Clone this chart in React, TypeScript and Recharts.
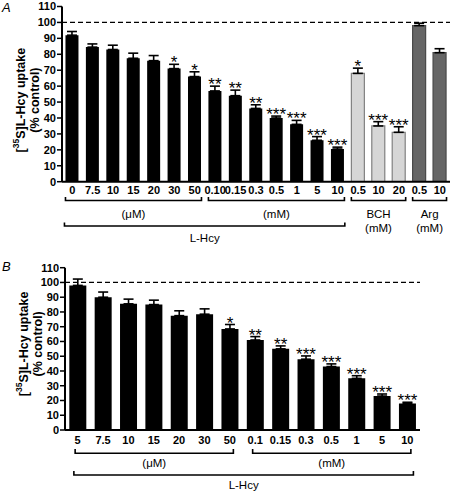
import React from 'react';
import { BarChart, Bar, XAxis, YAxis, ErrorBar, ReferenceLine, ReferenceArea, Cell, LabelList, Label } from 'recharts';

const FONT = '"Liberation Sans", Arial, Helvetica, sans-serif';

// ---------- Panel A data ----------
const aLabels = ['0', '7.5', '10', '15', '20', '30', '50', '0.10', '0.15', '0.3', '0.5', '1', '5', '10', '0.5', '10', '20', '0.5', '10'];
const aValues = [92, 84.5, 83, 77.5, 76, 71, 66, 57, 54, 46, 40, 36, 26, 20.5, 68, 35, 31, 98, 81];
const aErrors = [2.3, 2, 2.7, 3.2, 3.2, 2.7, 3, 3, 3.5, 2.3, 1.2, 2.5, 2.3, 1.2, 3.3, 2.7, 3.5, 1.5, 2.5];
const aStars = ['', '', '', '', '', '*', '*', '**', '**', '**', '***', '***', '***', '***', '*', '***', '***', '', ''];
const aKinds = ['h', 'h', 'h', 'h', 'h', 'h', 'h', 'h', 'h', 'h', 'h', 'h', 'h', 'h', 'b', 'b', 'b', 'r', 'r'];
const aGroups = [
  { from: 0, to: 6, row: 1, text: ['(\u03bcM)'] },
  { from: 7, to: 13, row: 1, text: ['(mM)'] },
  { from: 14, to: 16, row: 1, text: ['BCH', '(mM)'] },
  { from: 17, to: 18, row: 1, text: ['Arg', '(mM)'] },
  { from: 0, to: 13, row: 2, text: ['L-Hcy'] },
];

// ---------- Panel B data ----------
const bLabels = ['5', '7.5', '10', '15', '20', '30', '50', '0.1', '0.15', '0.3', '0.5', '1', '5', '10'];
const bValues = [98, 90, 85.5, 85, 77.5, 78.5, 68.5, 61, 55, 48, 43, 35, 23, 18];
const bErrors = [4.3, 3.5, 3.2, 3, 3.3, 3.6, 3, 2.3, 2, 2.2, 1.8, 1.8, 1.4, 0.8];
const bStars = ['', '', '', '', '', '', '*', '**', '**', '***', '***', '***', '***', '***'];
const bKinds = ['h', 'h', 'h', 'h', 'h', 'h', 'h', 'h', 'h', 'h', 'h', 'h', 'h', 'h'];
const bGroups = [
  { from: 0, to: 6, row: 1, text: ['(\u03bcM)'] },
  { from: 7, to: 13, row: 1, text: ['(mM)'] },
  { from: 0, to: 13, row: 2, text: ['L-Hcy'] },
];

const yTicks = [0, 10, 20, 30, 40, 50, 60, 70, 80, 90, 100, 110];
const controlLevel = 100;

const KIND_FILL: Record<string, string> = { h: '#000000', b: '#d6d6d6', r: '#666666' };
const KIND_STROKE: Record<string, string> = { h: '#000000', b: '#808080', r: '#4a4a4a' };

type Group = { from: number; to: number; row: number; text: string[] };
type RowStyle = { y1: number; y2: number; insetL: number; insetR: number; labelGap: number };

function buildData(labels: string[], values: number[], errors: number[]) {
  return labels.map((l, i) => ({ id: 'c' + i, label: l, v: values[i], err: [0, errors[i]] }));
}

const makeStarContent = (stars: string[], errors: number[]) => (props: any) => {
  const { x, y, width, height, value, index } = props;
  const s = stars[index];
  if (!s) return null;
  const px = Number(height) / Number(value);
  const top = Number(y) - errors[index] * px;
  return (
    <text x={Number(x) + Number(width) / 2} y={top + 4} textAnchor="middle" fontSize={17} fontFamily={FONT} fill="#000">
      {s}
    </text>
  );
};

const makeBracket = (g: Group, rs: RowStyle) => (props: any) => {
  const { x, y, width, height } = props;
  const n = g.to - g.from + 1;
  const band = Number(width) / n;
  const l = Number(x) + band * rs.insetL;
  const r = Number(x) + Number(width) - band * rs.insetR;
  const yb = Number(y) + Number(height);
  const cx = (l + r) / 2;
  return (
    <g>
      <path d={`M${l},${Number(y)} V${yb} H${r} V${Number(y)}`} fill="none" stroke="#000" strokeWidth={1.6} />
      {g.text.map((t, k) => (
        <text key={k} x={cx} y={yb + rs.labelGap + k * 13.3} textAnchor="middle" dominantBaseline="central" fontSize={11.5} fontFamily={FONT} fill="#000">
          {t}
        </text>
      ))}
    </g>
  );
};

const YLabel = (props: any) => {
  const vb = props.viewBox || {};
  const cy = Number(vb.y) + Number(vb.height) / 2 + (props.dyc || 0);
  const x1 = props.x1;
  const x2 = props.x2;
  return (
    <g fontFamily={FONT} fontWeight="bold" fill="#000">
      <text x={x1} y={cy} transform={`rotate(-90, ${x1}, ${cy})`} textAnchor="middle" dominantBaseline="central" fontSize={12.5}>
        <tspan>[</tspan>
        <tspan fontSize={8.5} dy={-5}>35</tspan>
        <tspan dy={5}>S]L-Hcy uptake</tspan>
      </text>
      <text x={x2} y={cy} transform={`rotate(-90, ${x2}, ${cy})`} textAnchor="middle" dominantBaseline="central" fontSize={12.5}>
        (% control)
      </text>
    </g>
  );
};

type PanelProps = {
  labels: string[]; values: number[]; errors: number[]; stars: string[]; kinds: string[]; groups: Group[];
  width: number; height: number; margin: any; tickMargin: number; rows: Record<number, RowStyle>;
  labelX1: number; labelX2: number; labelDy: number;
};

function Panel(p: PanelProps) {
  const data = buildData(p.labels, p.values, p.errors);
  return (
    <BarChart width={p.width} height={p.height} data={data} margin={p.margin} barCategoryGap="17%">
      <XAxis
        dataKey="id"
        interval={0}
        tickFormatter={(_v: any, i: number) => p.labels[i]}
        tickLine={false}
        tickSize={0}
        tickMargin={p.tickMargin}
        height={20}
        axisLine={{ stroke: '#000', strokeWidth: 2 }}
        tick={{ fontSize: 11, fontWeight: 'bold', fill: '#000', fontFamily: FONT }}
      />
      <YAxis
        domain={[0, 110]}
        ticks={yTicks}
        interval={0}
        width={30}
        tickSize={5}
        tickMargin={1}
        axisLine={{ stroke: '#000', strokeWidth: 2 }}
        tickLine={{ stroke: '#000', strokeWidth: 1.5 }}
        tick={{ fontSize: 11, fontWeight: 'bold', fill: '#000', fontFamily: FONT }}
        allowDataOverflow
      >
        <Label content={(lp: any) => <YLabel {...lp} x1={p.labelX1} x2={p.labelX2} dyc={p.labelDy} />} />
      </YAxis>
      <ReferenceLine y={controlLevel} stroke="#000" strokeWidth={1.3} strokeDasharray="5 3" ifOverflow="visible" />
      <Bar dataKey="v" isAnimationActive={false}>
        {data.map((d, i) => (
          <Cell key={d.id} fill={KIND_FILL[p.kinds[i]]} stroke={KIND_STROKE[p.kinds[i]]} strokeWidth={p.kinds[i] === 'h' ? 0 : 1.2} />
        ))}
        <ErrorBar dataKey="err" direction="y" width={5} stroke="#000" strokeWidth={1.6} />
        <LabelList dataKey="v" content={makeStarContent(p.stars, p.errors)} />
      </Bar>
      {p.groups.map((g, k) => {
        const rs = p.rows[g.row];
        return (
          <ReferenceArea
            key={k}
            x1={'c' + g.from}
            x2={'c' + g.to}
            y1={rs.y1}
            y2={rs.y2}
            ifOverflow="visible"
            shape={makeBracket(g, rs)}
          />
        );
      })}
    </BarChart>
  );
}

export default function App() {
  return (
    <div style={{ position: 'absolute', left: 0, top: 0, width: 453, height: 492, background: '#fff', fontFamily: FONT }}>
      <div style={{ position: 'absolute', left: 0, top: 0 }}>
        <Panel
          labels={aLabels} values={aValues} errors={aErrors} stars={aStars} kinds={aKinds} groups={aGroups}
          width={453} height={250} margin={{ top: 6.5, right: 3, bottom: 48.3, left: 32 }} tickMargin={4}
          rows={{
            1: { y1: -11.8, y2: -9.6, insetL: 0.17, insetR: 0.17, labelGap: 14 },
            2: { y1: -27.8, y2: -25.6, insetL: 0.12, insetR: 0.15, labelGap: 12 },
          }}
          labelX1={21} labelX2={35} labelDy={6}
        />
      </div>
      <div style={{ position: 'absolute', left: 0, top: 250 }}>
        <Panel
          labels={bLabels} values={bValues} errors={bErrors} stars={bStars} kinds={bKinds} groups={bGroups}
          width={453} height={242} margin={{ top: 17.7, right: 33, bottom: 42, left: 35 }} tickMargin={6}
          rows={{
            1: { y1: -15.8, y2: -12.9, insetL: 0.4, insetR: 0.36, labelGap: 10 },
            2: { y1: -30.5, y2: -27.8, insetL: 0.35, insetR: 0.26, labelGap: 10 },
          }}
          labelX1={24} labelX2={38} labelDy={-5}
        />
      </div>
      <div style={{ position: 'absolute', left: 2, top: 0, fontStyle: 'italic', fontSize: 13, fontFamily: FONT }}>A</div>
      <div style={{ position: 'absolute', left: 2, top: 259, fontStyle: 'italic', fontSize: 13, fontFamily: FONT }}>B</div>
    </div>
  );
}
